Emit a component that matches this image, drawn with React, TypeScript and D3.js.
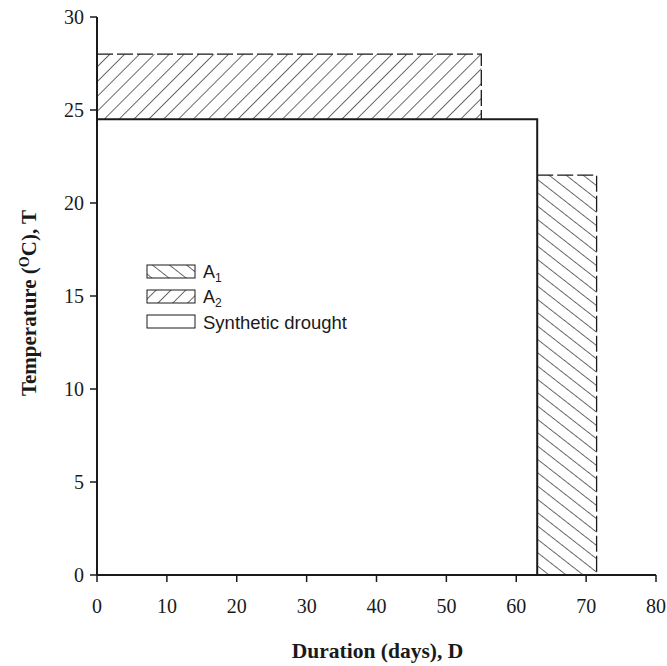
import React from "react";
import * as d3 from "d3";

const W = 667;
const H = 666;
const margin = { left: 97, right: 11, top: 17, bottom: 91 };

const xTicks = [0, 10, 20, 30, 40, 50, 60, 70, 80];
const yTicks = [0, 5, 10, 15, 20, 25, 30];

// rectangles: [x0, x1, y0, y1]
const seriesNames = ["A1", "A2", "Synthetic drought"];
const droughtRect = [0, 63, 0, 24.5];
const a2Rect = [0, 55, 24.5, 28];
const a1Rect = [63, 71.5, 0, 21.5];

export default function App() {
  const x = d3.scaleLinear().domain([0, 80]).range([margin.left, W - margin.right]);
  const y = d3.scaleLinear().domain([0, 30]).range([H - margin.bottom, margin.top]);
  const col = "#1a1a1a";
  const serif = "Liberation Serif, Times New Roman, serif";

  const rectPath = (r: number[]) => ({
    x: x(r[0]),
    y: y(r[3]),
    w: x(r[1]) - x(r[0]),
    h: y(r[2]) - y(r[3]),
  });
  const d = rectPath(droughtRect);
  const a2 = rectPath(a2Rect);
  const a1 = rectPath(a1Rect);

  const legendX = 147;
  const legendY = [265, 290, 315];

  return (
    <svg width={W} height={H} style={{ display: "block", position: "absolute", left: 0, top: 0 }}>
      <defs>
        <pattern id="hatchA2" patternUnits="userSpaceOnUse" width="10.5" height="10" patternTransform="rotate(45)">
          <line x1="0" y1="0" x2="0" y2="10" stroke={col} strokeWidth="1.3" />
        </pattern>
        <pattern id="hatchA1" patternUnits="userSpaceOnUse" width="10.5" height="10" patternTransform="rotate(-52)">
          <line x1="0" y1="0" x2="0" y2="10" stroke={col} strokeWidth="1.3" />
        </pattern>
      </defs>
      <rect width={W} height={H} fill="#fff" />

      {/* A2 */}
      <rect x={a2.x} y={a2.y} width={a2.w} height={a2.h} fill="url(#hatchA2)" />
      <path
        d={`M${a2.x},${a2.y}H${a2.x + a2.w}V${a2.y + a2.h}`}
        fill="none"
        stroke={col}
        strokeWidth={1.3}
        strokeDasharray="16,4"
      />
      {/* A1 */}
      <rect x={a1.x} y={a1.y} width={a1.w} height={a1.h} fill="url(#hatchA1)" />
      <path
        d={`M${a1.x},${a1.y}H${a1.x + a1.w}V${a1.y + a1.h}`}
        fill="none"
        stroke={col}
        strokeWidth={1.3}
        strokeDasharray="16,4"
      />
      {/* Synthetic drought */}
      <path
        d={`M${d.x},${d.y + d.h}V${d.y}H${d.x + d.w}V${d.y + d.h}`}
        fill="none"
        stroke={col}
        strokeWidth={2}
      />

      {/* axes */}
      <line x1={x(0)} x2={x(0)} y1={y(30)} y2={y(0)} stroke={col} strokeWidth={2} />
      <line x1={x(0)} x2={x(80)} y1={y(0)} y2={y(0)} stroke={col} strokeWidth={2} />
      {yTicks.map((t) => (
        <g key={"y" + t}>
          <line x1={x(0) - 7} x2={x(0)} y1={y(t)} y2={y(t)} stroke={col} strokeWidth={1.5} />
          <text
            x={x(0) - 13}
            y={y(t)}
            dy="0.35em"
            textAnchor="end"
            fontFamily={serif}
            fontSize={20}
            fill={col}
          >
            {t}
          </text>
        </g>
      ))}
      {xTicks.map((t) => (
        <g key={"x" + t}>
          <line x1={x(t)} x2={x(t)} y1={y(0)} y2={y(0) + 7} stroke={col} strokeWidth={1.5} />
          <text
            x={x(t)}
            y={y(0) + 38}
            textAnchor="middle"
            fontFamily={serif}
            fontSize={20}
            fill={col}
          >
            {t}
          </text>
        </g>
      ))}

      {/* axis titles */}
      <text
        x={(x(0) + x(80)) / 2 + 1}
        y={658}
        textAnchor="middle"
        fontFamily={serif}
        fontWeight="bold"
        fontSize={21.5}
        fill={col}
      >
        Duration (days), D
      </text>
      <text
        transform={`translate(36,${(y(0) + y(30)) / 2 + 7}) rotate(-90)`}
        textAnchor="middle"
        fontFamily={serif}
        fontWeight="bold"
        fontSize={21}
        fill={col}
      >
        Temperature (<tspan dy={-7} fontSize={14}>O</tspan><tspan dy={7}>C), T</tspan>
      </text>

      {/* legend */}
      {seriesNames.map((name, i) => (
        <g key={name}>
          <rect
            x={legendX}
            y={legendY[i]}
            width={48}
            height={13}
            fill={i === 0 ? "url(#hatchA1)" : i === 1 ? "url(#hatchA2)" : "#fff"}
            stroke={col}
            strokeWidth={1}
          />
          {i < 2 ? (
            <text
              x={legendX + 56}
              y={legendY[i] + 13}
              fontFamily="Liberation Sans, Arial, sans-serif"
              fontSize={18}
              fill={col}
            >
              A
              <tspan dy={4} fontSize={12}>
                {i === 0 ? "1" : "2"}
              </tspan>
            </text>
          ) : (
            <text
              x={legendX + 56}
              y={legendY[i] + 14}
              fontFamily="Liberation Sans, Arial, sans-serif"
              fontSize={18.5}
              fill={col}
            >
              {name}
            </text>
          )}
        </g>
      ))}
    </svg>
  );
}
